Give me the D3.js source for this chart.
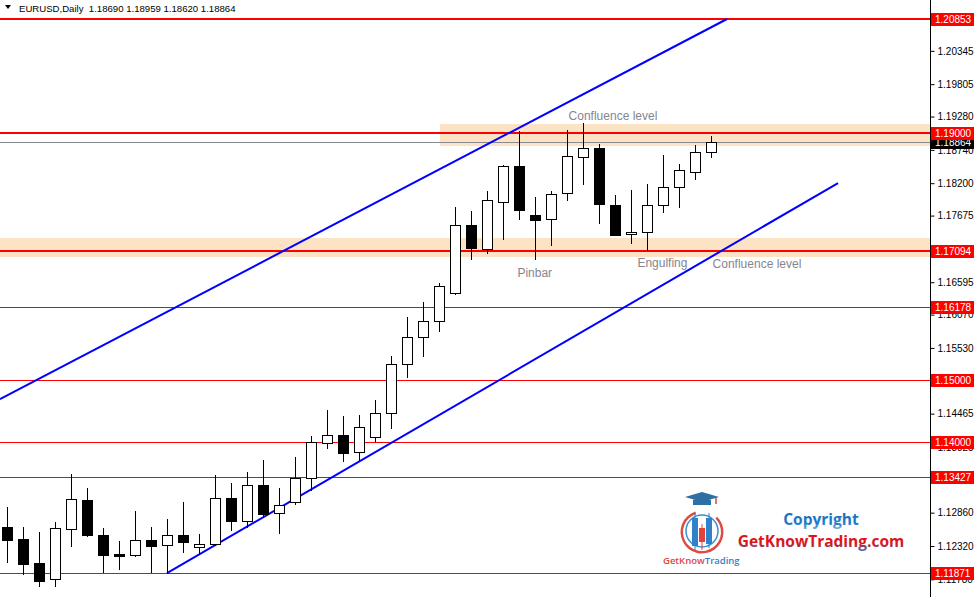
<!DOCTYPE html>
<html>
<head>
<meta charset="utf-8">
<script src="https://cdn.jsdelivr.net/npm/d3@7"></script>
<style>
  html, body { margin: 0; padding: 0; background: #fff; }
  svg { display: block; }
</style>
</head>
<body>
<svg id="chart" width="975" height="597"></svg>
<script>
// ---------------- DATA ----------------
const symbol = "EURUSD,Daily";
const open  = [1.12617,1.12422,1.12044,1.11785,1.12580,1.13055,1.12498,1.12179,1.12158,1.12406,
               1.12320,1.12498,1.12297,1.12346,1.13082,1.12725,1.13293,1.12839,1.13033,1.13422,
               1.13974,1.14103,1.13828,1.14071,1.14460,1.15255,1.15692,1.15952,1.16406,1.17508,
               1.17132,1.17894,1.18470,1.17670,1.17606,1.18032,1.18611,1.18762,1.17833,1.17362,
               1.17395,1.17833,1.18124,1.18368,1.18690];
const high  = [1.12941,1.12617,1.12536,1.12693,1.13476,1.13249,1.12601,1.12390,1.12876,1.12617,
               1.12746,1.13022,1.12503,1.13460,1.13330,1.13509,1.13703,1.13244,1.13747,1.14092,
               1.14514,1.14416,1.14433,1.14676,1.15389,1.16026,1.16270,1.16578,1.17800,1.17740,
               1.18064,1.18486,1.19037,1.17967,1.18064,1.19053,1.19167,1.18822,1.17995,1.18081,
               1.18178,1.18648,1.18502,1.18810,1.18959];
const low   = [1.12054,1.11850,1.11665,1.11665,1.12314,1.12471,1.11887,1.11936,1.12150,1.11887,
               1.11871,1.12211,1.12179,1.12325,1.12568,1.12622,1.12784,1.12524,1.12995,1.13217,
               1.13902,1.13692,1.13703,1.14016,1.14217,1.15054,1.15394,1.15799,1.16400,1.16967,
               1.17067,1.17294,1.17618,1.16957,1.17197,1.17927,1.18173,1.17541,1.17346,1.17216,
               1.17103,1.17719,1.17810,1.18254,1.18620];
const close = [1.12411,1.12022,1.11746,1.12596,1.13066,1.12487,1.12168,1.12151,1.12417,1.12314,
               1.12498,1.12379,1.12352,1.13082,1.12719,1.13293,1.12832,1.12969,1.13422,1.13995,
               1.14103,1.13821,1.14233,1.14460,1.15255,1.15692,1.15952,1.16524,1.17508,1.17145,
               1.17915,1.18470,1.17764,1.17602,1.18011,1.18627,1.18757,1.17849,1.17351,1.17395,
               1.17833,1.18124,1.18400,1.18692,1.18864];

const tickValues = [1.20345,1.19805,1.19280,1.18740,1.18200,1.17675,1.16595,1.16070,
                    1.15530,1.14465,1.13925,1.13385,1.12860,1.12320,1.11780];
const levelPrices = [1.20853,1.19000,1.17094,1.16178,1.15000,1.14000,1.13427,1.11871];
const keyLevels   = [1.20853,1.19000,1.17094];
const lastPrice = 1.18864;

// zones: [fromBar, priceTop, priceBottom]
const zoneFrom   = [27.05, -0.45];
const zoneTop    = [1.19151, 1.17307];
const zoneBottom = [1.18799, 1.16989];

// trend channel: two anchor points each (bar index, price)
const upperLine = [[-0.44, 1.14692], [45.0, 1.20853]];
const lowerLine = [[10, 1.11871], [51.94, 1.18194]];

const noteText  = ["Confluence level", "Pinbar", "Engulfing", "Confluence level"];
const noteBar   = [35.1, 31.9, 39.4, 44.1];
const notePrice = [1.19224, 1.16678, 1.16840, 1.16824];

// ---------------- DRAW ----------------
const W = 975, H = 597, axisX = 930;
const svg = d3.select("#chart");

const x = d3.scaleLinear().domain([0, 44]).range([7, 711]);
const y = d3.scaleLinear().domain([1.11871, 1.20853]).range([573.2, 19]);
const px = v => Math.round(x(v));
const py = v => Math.round(y(v));

const defs = svg.append("defs");
const g1 = defs.append("linearGradient").attr("id","gkt").attr("x1",0).attr("y1",0).attr("x2",0).attr("y2",1);
g1.append("stop").attr("offset","0%").attr("stop-color","#e3141b");
g1.append("stop").attr("offset","62%").attr("stop-color","#d9161d");
g1.append("stop").attr("offset","100%").attr("stop-color","#2f78c4");
const g2 = defs.append("linearGradient").attr("id","cpy").attr("x1",0).attr("y1",0).attr("x2",0).attr("y2",1);
g2.append("stop").attr("offset","0%").attr("stop-color","#1767b3");
g2.append("stop").attr("offset","70%").attr("stop-color","#1f7ccc");
g2.append("stop").attr("offset","100%").attr("stop-color","#7fb6e2");

svg.append("rect").attr("width", W).attr("height", H).attr("fill", "#fff");

const plot = svg.append("g");

// zones
plot.selectAll("rect.zone").data(zoneFrom).join("rect")
  .attr("class","zone")
  .attr("x", (d) => Math.max(0, x(d)))
  .attr("y", (d,i) => py(zoneTop[i]))
  .attr("width", (d) => axisX - Math.max(0, x(d)))
  .attr("height", (d,i) => py(zoneBottom[i]) - py(zoneTop[i]))
  .attr("fill", "#fde3c6");

// last price line
plot.append("line")
  .attr("x1", 0).attr("x2", axisX)
  .attr("y1", py(lastPrice) + 0.5).attr("y2", py(lastPrice) + 0.5)
  .attr("stroke", "#8a8a8a").attr("stroke-width", 1);

// red levels
plot.selectAll("line.level").data(levelPrices).join("line")
  .attr("class","level")
  .attr("x1", 0).attr("x2", axisX + 2)
  .attr("y1", d => keyLevels.includes(d) ? py(d) : py(d) + 0.5)
  .attr("y2", d => keyLevels.includes(d) ? py(d) : py(d) + 0.5)
  .attr("stroke", "#ff0000")
  .attr("stroke-width", d => keyLevels.includes(d) ? 2 : 1);

// trend lines
[upperLine, lowerLine].forEach(L => {
  plot.append("line")
    .attr("x1", x(L[0][0])).attr("y1", y(L[0][1]))
    .attr("x2", x(L[1][0])).attr("y2", y(L[1][1]))
    .attr("stroke", "#0000ff").attr("stroke-width", 2);
});

// candles
const idx = d3.range(open.length);
const cg = plot.append("g");
cg.selectAll("line.wick").data(idx).join("line")
  .attr("x1", i => px(i) + 0.5).attr("x2", i => px(i) + 0.5)
  .attr("y1", i => py(high[i])).attr("y2", i => py(low[i]) + 1)
  .attr("stroke", "#000").attr("stroke-width", 1);
cg.selectAll("rect.body").data(idx).join("rect")
  .attr("x", i => px(i) - 4.5)
  .attr("y", i => py(Math.max(open[i], close[i])) + 0.5)
  .attr("width", 10)
  .attr("height", i => Math.max(1, py(Math.min(open[i], close[i])) - py(Math.max(open[i], close[i]))))
  .attr("fill", i => close[i] >= open[i] ? "#fff" : "#000")
  .attr("stroke", "#000").attr("stroke-width", 1);

// annotations
svg.selectAll("text.note").data(noteText).join("text")
  .attr("class","note")
  .attr("x", (d,i) => x(noteBar[i]))
  .attr("y", (d,i) => y(notePrice[i]))
  .attr("font-family", "Liberation Sans, Arial, sans-serif")
  .attr("font-size", 12)
  .attr("fill", "#85858f")
  .text(d => d);

// right axis
svg.append("rect").attr("x", axisX + 1).attr("y", 0).attr("width", W - axisX - 1).attr("height", H).attr("fill", "#fff");
svg.append("line").attr("x1", axisX + 0.5).attr("x2", axisX + 0.5).attr("y1", 0).attr("y2", H)
  .attr("stroke", "#000").attr("stroke-width", 1);

const axis = d3.axisRight(y).tickValues(tickValues).tickSize(4).tickPadding(3)
  .tickFormat(d3.format(".5f"));
const ag = svg.append("g").attr("transform", `translate(${axisX + 0.5},0.5)`).call(axis);
ag.select(".domain").remove();
ag.selectAll(".tick line").attr("stroke", "#000");
ag.selectAll(".tick text").attr("font-family", "Liberation Sans, Arial, sans-serif")
  .attr("font-size", 10).attr("fill", "#000");

// price labels
function priceLabel(p, bg) {
  const cy = y(p);
  svg.append("rect").attr("x", axisX + 1).attr("y", Math.round(cy) - 6).attr("width", 43).attr("height", 13).attr("fill", bg);
  svg.append("text").attr("x", axisX + 5).attr("y", Math.round(cy) + 4)
    .attr("font-family", "Liberation Sans, Arial, sans-serif").attr("font-size", 10)
    .attr("fill", "#fff").text(d3.format(".5f")(p));
}
priceLabel(lastPrice, "#000");
levelPrices.forEach(p => priceLabel(p, "#ff0000"));

// header
svg.append("path").attr("d", "M5,5 L11,5 L8,9 Z").attr("fill", "#000");
svg.append("text").attr("x", 19).attr("y", 12)
  .attr("font-family", "Liberation Sans, Arial, sans-serif").attr("font-size", 9.6)
  .attr("fill", "#000").attr("xml:space","preserve")
  .text(symbol + "  " + [open[44], high[44], low[44], close[44]].map(d3.format(".5f")).join(" "));

// watermark logo
const lg = svg.append("g");
const cx0 = 702, cy0 = 532;
lg.append("path")
  .attr("d", d3.arc()({innerRadius: 19, outerRadius: 21.5, startAngle: -0.1 * Math.PI, endAngle: -1.75 * Math.PI}))
  .attr("transform", `translate(${cx0},${cy0})`).attr("fill", "#de4a44");
lg.append("circle").attr("cx", cx0).attr("cy", cy0 - 1).attr("r", 16)
  .attr("fill", "none").attr("stroke", "#3a8fcf").attr("stroke-width", 1.5);
// cap
lg.append("path").attr("d", `M${cx0-17},${cy0-35} L${cx0},${cy0-40} L${cx0+17},${cy0-35} L${cx0},${cy0-30} Z`).attr("fill", "#2f6fa3");
lg.append("path").attr("d", `M${cx0-9},${cy0-32} L${cx0+9},${cy0-32} L${cx0+9},${cy0-27} L${cx0-9},${cy0-27} Z`).attr("fill", "#2f6fa3");
lg.append("line").attr("x1", cx0+14).attr("x2", cx0+14).attr("y1", cy0-35).attr("y2", cy0-28).attr("stroke", "#d9403a").attr("stroke-width", 1.5);
// mini candles
[[-7,-14,14,"#2f82c8",-19,18],[0,-4,14,"#e0433c",-8,18],[7,-14,12,"#2f82c8",-19,16]].forEach(c => {
  lg.append("line").attr("x1", cx0+c[0]).attr("x2", cx0+c[0]).attr("y1", cy0+c[4]).attr("y2", cy0+c[5]).attr("stroke", c[3]).attr("stroke-width", 1);
  lg.append("rect").attr("x", cx0+c[0]-3).attr("y", cy0+c[1]).attr("width", 6).attr("height", c[2]+ (c[1]===-14?14:0)).attr("fill", c[3]);
});
const smallT = lg.append("text").attr("x", 663).attr("y", 564)
  .attr("font-family", "Open Sans, sans-serif").attr("font-size", 9.5).attr("font-weight", 600);
smallT.append("tspan").attr("fill", "#d9463f").text("GetKnow");
smallT.append("tspan").attr("fill", "#2f82c8").text("Trading");

lg.append("text").attr("x", 821).attr("y", 525).attr("text-anchor", "middle")
  .attr("font-family", "Open Sans, sans-serif").attr("font-size", 15.5).attr("font-weight", 700)
  .attr("fill", "url(#cpy)").text("Copyright");
lg.append("text").attr("x", 821).attr("y", 547).attr("text-anchor", "middle")
  .attr("font-family", "Open Sans, sans-serif").attr("font-size", 15.5).attr("font-weight", 700)
  .attr("fill", "url(#gkt)").text("GetKnowTrading.com");
</script>
</body>
</html>
